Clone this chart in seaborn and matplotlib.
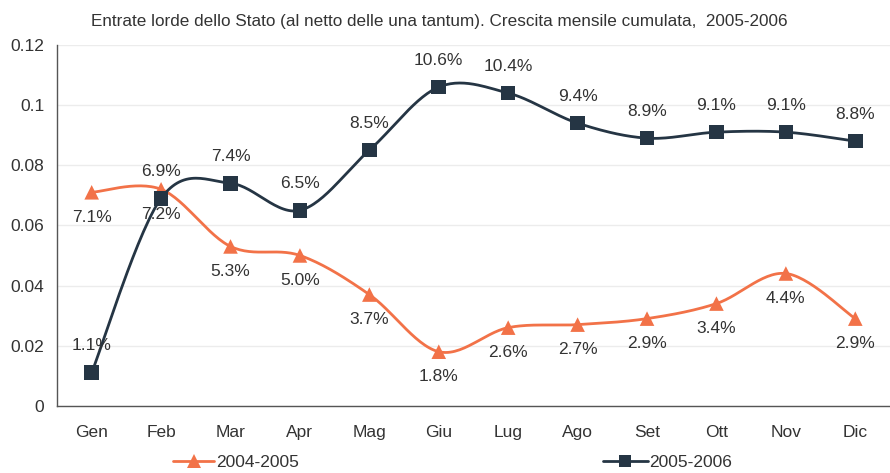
import numpy as np
import pandas as pd
import matplotlib
matplotlib.use("Agg")
import matplotlib.pyplot as plt
import seaborn as sns
from matplotlib.lines import Line2D

months = ["Gen", "Feb", "Mar", "Apr", "Mag", "Giu", "Lug", "Ago", "Set", "Ott", "Nov", "Dic"]
s_2004_2005 = [0.071, 0.072, 0.053, 0.050, 0.037, 0.018, 0.026, 0.027, 0.029, 0.034, 0.044, 0.029]
s_2005_2006 = [0.011, 0.069, 0.074, 0.065, 0.085, 0.106, 0.104, 0.094, 0.089, 0.091, 0.091, 0.088]
labels_2004_2005 = ["7.1%", "7.2%", "5.3%", "5.0%", "3.7%", "1.8%", "2.6%", "2.7%", "2.9%", "3.4%", "4.4%", "2.9%"]
labels_2005_2006 = ["1.1%", "6.9%", "7.4%", "6.5%", "8.5%", "10.6%", "10.4%", "9.4%", "8.9%", "9.1%", "9.1%", "8.8%"]
title = "Entrate lorde dello Stato (al netto delle una tantum). Crescita mensile cumulata,  2005-2006"

ORANGE = "#f27248"
NAVY = "#253544"
TEXT = "#333333"

sns.set_theme(style="white")
plt.rcParams["font.family"] = ["Liberation Sans", "DejaVu Sans"]


def smooth(y, n=30):
    """Catmull-Rom curve through the data points (display smoothing only)."""
    y = np.asarray(y, float)
    x = np.arange(len(y), dtype=float)
    P = np.column_stack([x, y])
    P = np.vstack([P[0], P, P[-1]])
    out = []
    t = np.linspace(0, 1, n, endpoint=False)[:, None]
    for i in range(1, len(P) - 2):
        p0, p1, p2, p3 = P[i - 1], P[i], P[i + 1], P[i + 2]
        seg = 0.5 * ((2 * p1) + (-p0 + p2) * t + (2 * p0 - 5 * p1 + 4 * p2 - p3) * t ** 2
                     + (-p0 + 3 * p1 - 3 * p2 + p3) * t ** 3)
        out.append(seg)
    out.append(P[-2][None, :])
    out = np.vstack(out)
    return out[:, 0], out[:, 1]


fig = plt.figure(figsize=(8.9, 4.73), dpi=100)
ax = fig.add_axes([0.064, 0.142, 0.936, 0.763])

idx = np.arange(len(months))
df = pd.DataFrame({"x": np.concatenate([idx, idx]),
                   "y": s_2004_2005 + s_2005_2006,
                   "serie": ["2004-2005"] * 12 + ["2005-2006"] * 12})

for vals, col in [(s_2004_2005, ORANGE), (s_2005_2006, NAVY)]:
    sx, sy = smooth(vals)
    sns.lineplot(x=sx, y=sy, ax=ax, color=col, lw=2, sort=False, estimator=None, legend=False)

sns.scatterplot(data=df, x="x", y="y", hue="serie", style="serie",
                markers={"2004-2005": "^", "2005-2006": "s"},
                palette={"2004-2005": ORANGE, "2005-2006": NAVY},
                s=110, linewidth=0, ax=ax, legend=False, zorder=5)

for i, (v, t) in enumerate(zip(s_2004_2005, labels_2004_2005)):
    ax.annotate(t, (i, v), xytext=(0, -25), textcoords="offset pixels",
                ha="center", va="center", fontsize=12.5, color=TEXT)
for i, (v, t) in enumerate(zip(s_2005_2006, labels_2005_2006)):
    ax.annotate(t, (i, v), xytext=(0, 27), textcoords="offset pixels",
                ha="center", va="center", fontsize=12.5, color=TEXT)

ax.set_xlim(-0.5, 11.34)
ax.set_ylim(0, 0.12)
ax.set_yticks([0, 0.02, 0.04, 0.06, 0.08, 0.1, 0.12])
ax.set_yticklabels(["0", "0.02", "0.04", "0.06", "0.08", "0.1", "0.12"])
ax.set_xticks(idx)
ax.set_xticklabels(months)
ax.set_xticks(np.arange(-0.5, 11.6, 1), minor=True)
ax.tick_params(axis="x", which="major", length=0, pad=14, labelsize=12.5, labelcolor=TEXT)
ax.tick_params(axis="x", which="minor", length=5, width=1, color="#555555", direction="out")
ax.tick_params(axis="y", which="major", length=5, width=1, color="#555555", direction="out",
               labelsize=12.5, labelcolor=TEXT, pad=4)
ax.set_xlabel("")
ax.set_ylabel("")
ax.yaxis.grid(True, color="#ececec", lw=1)
ax.set_axisbelow(True)
for s in ["top", "right"]:
    ax.spines[s].set_visible(False)
for s in ["left", "bottom"]:
    ax.spines[s].set_color("#555555")
    ax.spines[s].set_linewidth(1)

fig.text(0.494, 0.955, title, ha="center", va="center", fontsize=12.3, color=TEXT)

h1 = Line2D([], [], color=ORANGE, lw=2, marker="^", markersize=10, markeredgewidth=0)
h2 = Line2D([], [], color=NAVY, lw=2, marker="s", markersize=9, markeredgewidth=0)
fig.legend([h1], ["2004-2005"], loc="center", bbox_to_anchor=(0.265, 0.022), frameon=False,
           fontsize=12.5, handlelength=2.4, handletextpad=0.1, labelcolor=TEXT)
fig.legend([h2], ["2005-2006"], loc="center", bbox_to_anchor=(0.75, 0.022), frameon=False,
           fontsize=12.5, handlelength=2.6, handletextpad=0.1, labelcolor=TEXT)

fig.savefig("out.png", dpi=100)
